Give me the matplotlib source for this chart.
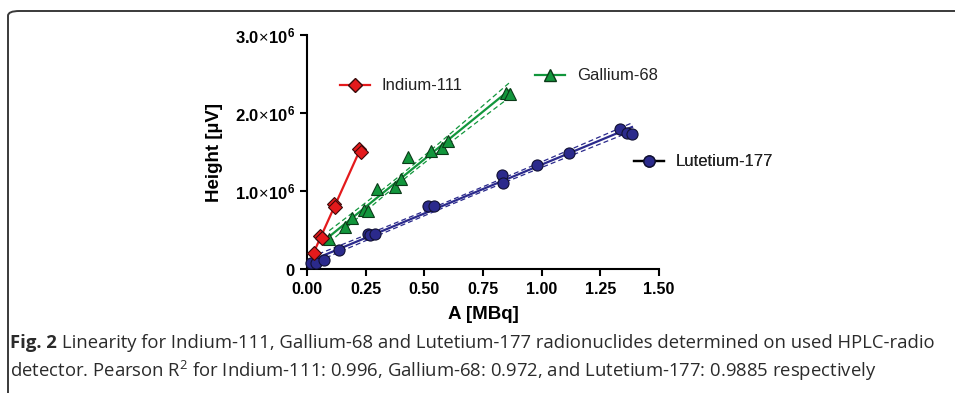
#!/usr/bin/env python3

import numpy as np
import matplotlib
import matplotlib.pyplot as plt
from matplotlib.lines import Line2D
from matplotlib.patches import FancyBboxPatch
from matplotlib.ticker import FixedLocator, FuncFormatter

matplotlib.rcParams['font.family'] = ['Liberation Sans', 'DejaVu Sans']
matplotlib.rcParams['mathtext.fontset'] = 'custom'
matplotlib.rcParams['mathtext.rm'] = 'Liberation Sans'
matplotlib.rcParams['mathtext.bf'] = 'Liberation Sans:bold'

# activity [MBq] vs peak height [x1e6 uV]
indium_x = [0.031, 0.055, 0.062, 0.114, 0.120, 0.220, 0.230]
indium_y = [0.21, 0.42, 0.40, 0.835, 0.79, 1.54, 1.50]

gallium_x = [0.095, 0.163, 0.190, 0.245, 0.260, 0.300, 0.377, 0.400, 0.430,
             0.530, 0.575, 0.600, 0.850, 0.865]
gallium_y = [0.39, 0.54, 0.65, 0.76, 0.74, 1.02, 1.05, 1.16, 1.44,
             1.51, 1.55, 1.64, 2.26, 2.25]

lutetium_x = [0.017, 0.038, 0.074, 0.135, 0.260, 0.270, 0.290, 0.515, 0.540,
              0.830, 0.835, 0.980, 1.115, 1.333, 1.365, 1.385]
lutetium_y = [0.08, 0.08, 0.115, 0.25, 0.45, 0.43, 0.45, 0.81, 0.81,
              1.21, 1.10, 1.33, 1.49, 1.80, 1.74, 1.73]

x_ticks = [0.0, 0.25, 0.5, 0.75, 1.0, 1.25, 1.5]
y_ticks = [0, 1e6, 2e6, 3e6]

RED = '#e41a1c'
GREEN = '#12963c'
NAVY = '#2b2a8c'


def fit_with_band(ax, xs, ys, color, band=True):
    x = np.asarray(xs)
    y = np.asarray(ys) * 1e6
    slope, icpt = np.polyfit(x, y, 1)
    xx = np.linspace(x.min(), x.max(), 50)
    yy = slope * xx + icpt
    ax.plot(xx, yy, color=color, lw=1.6, zorder=2)
    if band:
        n = len(x)
        resid = y - (slope * x + icpt)
        s = np.sqrt(np.sum(resid ** 2) / (n - 2))
        sxx = np.sum((x - x.mean()) ** 2)
        half = 2.15 * s * np.sqrt(1.0 / n + (xx - x.mean()) ** 2 / sxx)
        ax.plot(xx, yy + half, color=color, lw=0.9, ls=(0, (4, 2.5)), zorder=2)
        ax.plot(xx, yy - half, color=color, lw=0.9, ls=(0, (4, 2.5)), zorder=2)


def ytick_fmt(v, pos):
    if v == 0:
        return r'$\mathbf{0}$'
    return r'$\mathbf{%.1f}\!\times\!\mathbf{10^6}$' % (v / 1e6)


fig = plt.figure(figsize=(9.55, 3.93), dpi=100)
fig.patch.set_facecolor('white')

border = FancyBboxPatch((8 / 955, -0.1), 1.2, 1.0 - 11 / 393 + 0.1,
                        boxstyle='round,pad=0,rounding_size=0.012',
                        transform=fig.transFigure, facecolor='none',
                        edgecolor='#3a3a3a', lw=1.4, zorder=0)
fig.patches.append(border)

ax = fig.add_axes([307 / 955, 1 - 269 / 393, 352 / 955, 234 / 393])

fit_with_band(ax, lutetium_x, lutetium_y, NAVY)
fit_with_band(ax, gallium_x, gallium_y, GREEN)
fit_with_band(ax, indium_x, indium_y, RED, band=False)

ax.plot(lutetium_x, np.asarray(lutetium_y) * 1e6, 'o', ms=8, mfc=NAVY, mec='#111133',
        mew=0.8, ls='none', zorder=3, clip_on=False)
ax.plot(gallium_x, np.asarray(gallium_y) * 1e6, '^', ms=8.5, mfc=GREEN, mec='#0b3a18',
        mew=0.8, ls='none', zorder=3, clip_on=False)
ax.plot(indium_x, np.asarray(indium_y) * 1e6, 'D', ms=7.5, mfc=RED, mec='#3a0a0a',
        mew=0.8, ls='none', zorder=4, clip_on=False)

ax.set_xlim(0, 1.5)
ax.set_ylim(0, 3e6)
ax.xaxis.set_major_locator(FixedLocator(x_ticks))
ax.yaxis.set_major_locator(FixedLocator(y_ticks))
ax.xaxis.set_major_formatter(FuncFormatter(lambda v, p: '%.2f' % v))
ax.yaxis.set_major_formatter(FuncFormatter(ytick_fmt))
for lab in ax.get_xticklabels():
    lab.set_fontweight('bold')

for side in ['top', 'right']:
    ax.spines[side].set_visible(False)
for side in ['left', 'bottom']:
    ax.spines[side].set_linewidth(1.5)
ax.tick_params(axis='x', direction='out', length=5, width=1.5, labelsize=11.5, pad=4)
ax.tick_params(axis='y', direction='out', length=5, width=1.5, labelsize=12, pad=3)

ax.set_xlabel('A [MBq]', fontsize=13.5, fontweight='bold', labelpad=7)
ax.set_ylabel('Height [µV]', fontsize=13.5, fontweight='bold', labelpad=9)

# separate legend entries, placed like the original
entries = [
    (Line2D([], [], color=RED, lw=1.6, marker='D', ms=7, mfc=RED, mec='#3a0a0a'), 'Indium-111', 340, 86),
    (Line2D([], [], color=GREEN, lw=1.6, marker='^', ms=8, mfc=GREEN, mec='#0b3a18'), 'Gallium-68', 535, 76),
    (Line2D([], [], color='black', lw=1.6, marker='o', ms=8, mfc=NAVY, mec='#111133'), 'Lutetium-177', 634, 162),
]
for handle, label, px, py in entries:
    leg = ax.legend([handle], [label], loc='center left', frameon=False,
                    bbox_to_anchor=(px / 955, 1 - py / 393), bbox_transform=fig.transFigure,
                    handlelength=1.8, handletextpad=0.7, borderpad=0, borderaxespad=0,
                    prop={'family': 'Liberation Sans', 'size': 12})
    for t in leg.get_texts():
        t.set_color('#222222')
    ax.add_artist(leg)

# caption
matplotlib.rcParams['mathtext.rm'] = 'Open Sans'
cap_font = {'family': ['Open Sans', 'DejaVu Sans'], 'size': 13.3, 'color': '#2b2b2b'}
fig_lbl = fig.text(10 / 955, 1 - 343 / 393, 'Fig. 2', va='center', ha='left',
                   fontweight='bold', **cap_font)
fig.canvas.draw()
bb = fig_lbl.get_window_extent(renderer=fig.canvas.get_renderer())
fig.text(bb.x1 / 955 + 5 / 955, 1 - 343 / 393,
         'Linearity for Indium-111, Gallium-68 and Lutetium-177 radionuclides determined on used HPLC-radio',
         va='center', ha='left', **cap_font)
fig.text(10 / 955, 1 - 371 / 393,
         'detector. Pearson R$^2$ for Indium-111: 0.996, Gallium-68: 0.972, and Lutetium-177: 0.9885 respectively',
         va='center', ha='left', **cap_font)

fig.savefig('out.png', dpi=100)
